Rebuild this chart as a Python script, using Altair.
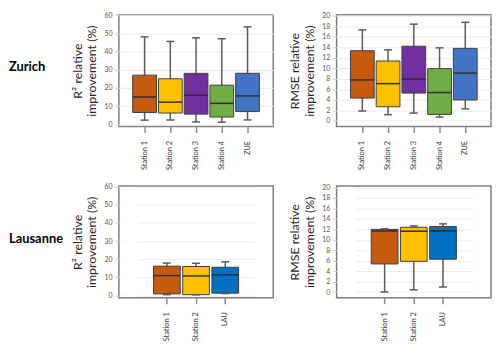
import altair as alt
import pandas as pd

# ---------------- data ----------------
zur_stations = ["Station 1", "Station 2", "Station 3", "Station 4", "ZUE"]
zur_colors = ["#C55A11", "#FFC000", "#7030A0", "#70AD47", "#4472C4"]

zur_r2_min = [2.3, 2.4, 1.3, 1.2, 2.4]
zur_r2_q1 = [6.5, 6.2, 5.6, 4.0, 7.0]
zur_r2_med = [15.0, 12.2, 16.0, 11.5, 15.6]
zur_r2_q3 = [27.0, 25.0, 28.0, 21.5, 28.0]
zur_r2_max = [48.0, 45.5, 47.5, 47.0, 53.5]

zur_rmse_min = [1.9, 1.2, 1.5, 0.75, 2.3]
zur_rmse_q1 = [4.35, 2.7, 5.3, 1.25, 4.0]
zur_rmse_med = [7.8, 7.1, 7.95, 5.4, 9.1]
zur_rmse_q3 = [13.35, 11.4, 14.2, 9.95, 13.8]
zur_rmse_max = [17.3, 13.5, 18.4, 13.9, 18.75]

lau_stations = ["Station 1", "Station 2", "LAU"]
lau_colors = ["#C55A11", "#FFC000", "#0070C0"]

lau_r2_min = [0.5, 0.4, 1.1]
lau_r2_q1 = [0.9, 0.5, 1.3]
lau_r2_med = [11.0, 10.8, 11.4]
lau_r2_q3 = [16.2, 16.0, 15.6]
lau_r2_max = [17.9, 17.8, 18.6]

lau_rmse_min = [0.05, 0.45, 1.0]
lau_rmse_q1 = [5.4, 5.9, 6.3]
lau_rmse_med = [11.7, 11.65, 11.7]
lau_rmse_q3 = [12.0, 12.4, 12.55]
lau_rmse_max = [12.1, 12.65, 13.05]

r2_ticks = [0, 10, 20, 30, 40, 50, 60]
rmse_ticks = [0, 2, 4, 6, 8, 10, 12, 14, 16, 18, 20]

FONT = "Lato"
H = 113


def make_df(stations, colors, lo, q1, med, q3, hi):
    return pd.DataFrame({"station": stations, "col": colors, "lo": lo, "q1": q1,
                         "med": med, "q3": q3, "hi": hi})


def panel(df, stations, domain, ticks, title, xrange, box_w):
    xenc = alt.X("station:N", sort=stations,
                 scale=alt.Scale(domain=stations, paddingInner=0, paddingOuter=0.5,
                                 range=xrange),
                 axis=alt.Axis(title=None, labelAngle=-90, labelFontSize=7.5,
                               labelColor="#404040", labelFont=FONT,
                               tickColor="#8c8c8c", tickSize=6, tickWidth=1.5,
                               domain=False, labelPadding=8, labelAlign="right",
                               labelBaseline="middle", labelOverlap=False))
    yscale = alt.Scale(domain=domain, nice=False, zero=False)
    yaxis = alt.Axis(title=title, values=ticks, labelFontSize=7,
                     labelColor="#595959", labelFont=FONT, tickSize=4,
                     tickColor="#d0d0d0", domain=False, grid=True,
                     gridColor="#ececec", gridWidth=1, titleFontSize=12.5,
                     titleFont=FONT, titleFontWeight="normal",
                     titleColor="#262626", titlePadding=5, titleLineHeight=15,
                     labelPadding=3, labelOverlap=False)
    base = alt.Chart(df).encode(x=xenc)
    whisk = base.mark_rule(color="#5a5a5a", strokeWidth=1.5).encode(
        y=alt.Y("lo:Q", scale=yscale, axis=yaxis), y2="hi:Q")
    box = base.mark_bar(size=box_w, stroke="#3f3f3f", strokeWidth=1).encode(
        y=alt.Y("q1:Q", scale=yscale, axis=yaxis), y2="q3:Q",
        color=alt.Color("col:N", scale=None, legend=None))
    med = base.mark_tick(size=box_w, thickness=1.5, color="#2e2e2e",
                         opacity=1).encode(y=alt.Y("med:Q", scale=yscale, axis=yaxis))
    cap_lo = base.mark_tick(size=8, thickness=1.5, color="#5a5a5a",
                            opacity=1).encode(y=alt.Y("lo:Q", scale=yscale, axis=yaxis))
    cap_hi = base.mark_tick(size=8, thickness=1.5, color="#5a5a5a",
                            opacity=1).encode(y=alt.Y("hi:Q", scale=yscale, axis=yaxis))
    return alt.layer(whisk, box, med, cap_lo, cap_hi).properties(
        width=156, height=H)


def label(text, y):
    return alt.Chart(pd.DataFrame({"t": [text]})).mark_text(
        align="left", baseline="alphabetic", fontSize=13, fontWeight="bold",
        font=FONT, color="#000000").encode(
        x=alt.value(-1), y=alt.value(y), text="t:N").properties(
        width=46, height=H, view=alt.ViewBackground(stroke="transparent"))


r2_title = ["R² relative", "improvement (%)"]
rmse_title = ["RMSE relative", "improvement (%)"]

zur_range = [0, 156]
lau_range = [19, 137]

zr2 = panel(make_df(zur_stations, zur_colors, zur_r2_min, zur_r2_q1, zur_r2_med, zur_r2_q3, zur_r2_max),
            zur_stations, [-1.2, 60.2], r2_ticks, r2_title, zur_range, 24)
zrm = panel(make_df(zur_stations, zur_colors, zur_rmse_min, zur_rmse_q1, zur_rmse_med, zur_rmse_q3, zur_rmse_max),
            zur_stations, [-1.05, 20.2], rmse_ticks, rmse_title, zur_range, 24)
lr2 = panel(make_df(lau_stations, lau_colors, lau_r2_min, lau_r2_q1, lau_r2_med, lau_r2_q3, lau_r2_max),
            lau_stations, [-1.2, 60.4], r2_ticks, r2_title, lau_range, 27)
lrm = panel(make_df(lau_stations, lau_colors, lau_rmse_min, lau_rmse_q1, lau_rmse_med, lau_rmse_q3, lau_rmse_max),
            lau_stations, [-1.05, 20.3], rmse_ticks, rmse_title, lau_range, 27)

chart = alt.concat(
    label("Zurich", 57), zr2, zrm,
    label("Lausanne", 58), lr2, lrm,
    columns=3, spacing={"row": 60, "column": 64}, bounds="flush"
).properties(
    padding=0
).configure_view(stroke="#7f7f7f", strokeWidth=1.5)

chart.save("out.html", embed_options={"renderer": "svg", "actions": False})
